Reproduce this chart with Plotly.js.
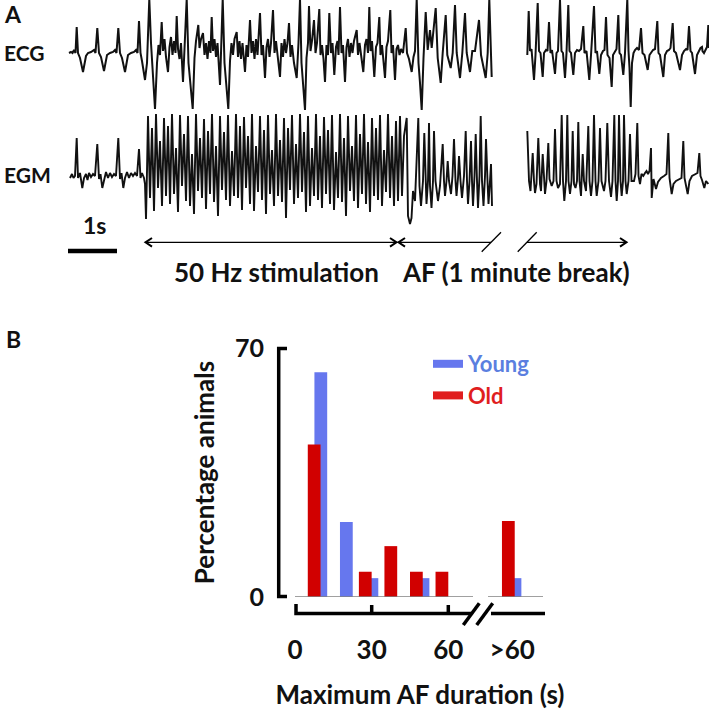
<!DOCTYPE html>
<html><head><meta charset="utf-8">
<script src="https://cdn.plot.ly/plotly-3.0.1.min.js"></script>
<style>html,body{margin:0;padding:0;background:#fff}#chart{width:709px;height:710px}</style>
</head><body><div id="chart"></div>
<script>
// ================= Panel B data =================
const durationBins = ['0-10', '10-20', '20-30', '30-40', '40-50', '50-60', '>60'];
const youngPct = [63.2, 21.1, 5.3, 0, 5.3, 0, 5.3];
const oldPct   = [42.9, 0, 7.1, 14.3, 7.1, 7.1, 21.4];
const xTickLabels = ['0', '30', '60', '>60'];
const yTickLabels = ['0', '70'];
const seriesNames = ['Young', 'Old'];

// ================= Panel A data (time in arbitrary units, amplitude in arbitrary units) =================
const ecgSeg1 = [[69,0],[71,1],[72.5,0],[74,3],[75.5,0],[76.7,26],[78,0],[80,-5],[83,-19],[86,-3],[88,0],[91,1],[94,3],[95.5,0],[97.3,25],[99,0],[101,-4],[104,-18],[107,-2],[110,0],[113,1],[115,3],[116.5,0],[118.3,25],[120,0],[122,-5],[125,-19],[128,-2],[131,0],[134,1],[136,3],[137.5,0],[139,32],[140.5,0],[142,-8],[145,-27],[147,-10],[149.3,54],[151,10],[153,-20],[155,-56],[157,-10],[158.5,8],[160,-2],[161.7,31],[163,2],[164.5,14],[166,-4],[168,-19],[169.5,6],[171,16],[172.5,-2],[174,12],[175.5,0],[176.7,37],[178,4],[179.5,-6],[181,10],[183,-29],[184.5,4],[186.7,54],[188.5,-10],[190.5,-30],[192.7,-56],[194.5,-5],[196,12],[198.3,28],[199.5,5],[201,14],[203,20],[204.5,-2],[206,10],[207.5,-6],[209,12],[210.5,0],[211.7,36],[213,2],[214.5,14],[216,-4],[217.5,10],[220,-32],[221.5,10],[222.7,54],[224.5,-10],[226.5,-35],[228.3,-56],[230,-8],[231.5,10],[233,-2],[234.5,14],[236.7,21],[238,-4],[239.5,12],[241,-6],[242.5,10],[245,-19],[246.5,8],[248,-4],[250,33],[251.5,0],[253,12],[254.5,-6],[256,14],[257.5,-2],[260,40],[261.5,-2],[263,8],[265,-25],[266.5,6],[268,14],[269.5,-4],[271,10],[273,43],[274.5,0],[276,12],[278,-6],[280,-24],[281.5,10],[283,-4],[284.5,14],[286,0],[287.5,10],[289,30],[290.5,-4],[292,8],[294,-10],[296.7,-25],[298.5,10],[300,54],[301.5,-10],[303,-30],[305,-57],[306.5,-5],[308,10],[309,47],[310.5,2],[312,12],[314,33],[315.5,0],[317,10],[319.3,44],[320.5,-2],[322,8],[323.5,-6],[325,-29],[326.5,8],[328,-2],[329.3,40],[331,0],[332.5,10],[334.3,-22],[336,6],[337.5,12],[338.5,-2],[340,46],[341.5,0],[343,8],[345,-29],[346.5,6],[348,14],[349.5,-4],[351,10],[352.5,0],[354,12],[356.7,23],[358,-2],[359.5,10],[361,-4],[363.3,-19],[365,8],[366.5,14],[368,0],[369.3,46],[370.5,2],[372,12],[374.3,-24],[376,6],[377.5,10],[379.3,36],[380.5,-2],[382,8],[385,-25],[386.5,6],[388,12],[390.3,43],[391.5,0],[393,8],[395,-27],[396.5,4],[398,8],[399.5,-2],[401,4],[403,0],[405.7,25],[407,0],[409,-6],[411.7,-19],[413.5,-4],[415,2],[416.7,54],[418.5,-10],[420,-30],[421.7,-57],[423.5,-5],[425.7,41],[427.7,3],[430,23],[431.7,5],[435.7,45],[437.7,-5],[440.7,-30],[442.7,0],[445.7,38],[447.3,-2],[450.7,-15],[452.7,0],[455,48],[456.7,0],[460,-25],[462.3,0],[465,40],[466.7,0],[470,-19],[472.3,2],[475,2],[479,33],[481,-2],[485.7,-25],[487.7,0],[489.3,54],[491.7,-24]];
const ecgSeg2 = [[527.3,-2],[528.7,42],[530,2],[531.5,4],[534,-27],[535.5,-2],[537.7,50],[539,2],[540.5,0],[542.7,-24],[544,0],[546,3],[547.5,2],[549,31],[550.5,0],[552,3],[555,-21],[556.5,0],[558,2],[560,53],[561.5,2],[563,0],[565,-25],[566.5,0],[568.3,48],[569.5,2],[571,0],[573.3,-22],[575,0],[577,3],[579,2],[581,4],[583.3,27],[584.5,0],[586.5,2],[589.3,-27],[591,-2],[594,47],[595.5,0],[597,2],[599.3,-21],[601,-2],[603,2],[604.5,3],[606,36],[607.5,-2],[609.5,-5],[611.7,-34],[613,-2],[615,2],[616.5,4],[618.3,38],[619.5,0],[621,-2],[623.3,-22],[625,0],[627.3,54],[628.5,2],[629.5,-15],[630.7,-54],[632,-10],[633.5,0],[635,3],[637,5],[639,3],[641,25],[642.5,0],[644.5,-2],[647.7,-17],[649.5,-2],[651,0],[653,3],[655,4],[657.3,32],[658.5,0],[660,-2],[663.3,-24],[665,-2],[667,2],[669,3],[670.5,5],[672.7,30],[674,2],[676,0],[680,-17],[682,-2],[684,2],[686,4],[687.5,3],[689,27],[690.5,2],[692,0],[695,-21],[697,-2],[699,2],[700.5,5],[702,6],[702.5,2],[704,0],[706,4],[707,6],[708.3,28],[709,5]];

const egmPre = [[70,-2],[72,2],[73.5,-2],[75,0],[76.7,38],[78,-2],[80,3],[82.3,-12],[84,-2],[86,2],[87.5,-4],[89,3],[91,-1],[93,2],[95,0],[97.3,32],[99,-3],[100.5,2],[102.3,-12],[104,-3],[106,4],[108,-2],[110,3],[112,-1],[114,2],[116,0],[118.3,38],[120,-3],[121.5,3],[123.3,-12],[125,-2],[127,4],[129,-2],[131,3],[133,0],[135,3],[137,0],[139,27],[140.5,-2],[142,3],[144,-2],[145,-8],[146,-43],[147,5]];
// 50 Hz stimulation: sampled every 2 time units from t = 148
const egmStimStart = 148, egmStimStep = 2;
const egmStim = [60,-22,48,-35,62,-12,35,-30, 58,-20,50,-28,62,-18,28,-36, 61,-10,42,-25,60,-30,22,-38, 62,-15,38,-22,57,-33,45,-18, 62,-26,30,-40,60,-14,44,-24, 61,-30,25,-20,62,-22,50,-34, 59,-12,40,-28,62,-35,30,-16, 60,-24,46,-38,61,-18,26,-30, 62,-20,36,-26,58,-42,48,-14, 61,-28,32,-22,62,-16,44,-36, 60,-30,28,-20,62,-24,40,-32, 59,-18,46,-28,61,-34,24,-22, 62,-26,38,-40,60,-15,30,-25, 61,-32,42,-18,62,-28,34,-36, 58,-20,48,-24,61,-30,26,-16, 62,-22,40];
const egmAF1 = [[394,-30],[396,55],[398,-25],[400,60],[402,-20],[404,40],[406.7,58],[408,-40],[410,-48],[411.5,-42],[413,-15],[415,-25],[418.3,58],[419.5,-10],[421,-30],[423,-5],[424.3,43],[425.5,-10],[426.5,-28],[428,-5],[429,53],[430,-10],[431.5,-32],[433,-5],[434,45],[435.5,-5],[438,-25],[440,-10],[442.7,32],[444,-5],[445,-20],[446.5,-5],[447.7,15],[449,-5],[451,-18],[452.5,0],[454,37],[455.5,-5],[456.5,-20],[458,-2],[459,20],[460.5,-5],[462,-22],[464,0],[465.7,45],[467,-5],[468,-28],[469.5,-5],[471,35],[472,-5],[473,-30],[474.5,0],[475.7,42],[477,-5],[478,-32],[479.5,0],[480.7,60],[482,-5],[483.5,-30],[485,0],[486,37],[487.5,-5],[488.5,-28],[490,-5],[491,12],[492,-30]];
const egmAF2 = [[527.3,45],[529,-5],[530.5,-15],[532.7,23],[534,-5],[535,-17],[536.5,-8],[538.3,38],[540,-8],[541,-15],[542.7,22],[544,-5],[545,-18],[546.5,-5],[548.3,33],[549.5,-3],[551.7,-10],[553.5,-5],[555,47],[556.5,-5],[558,-12],[560,-8],[561.7,61],[563,-5],[564.3,-25],[566,-5],[567.3,61],[568.5,-5],[570,-18],[571.5,-5],[572.7,45],[574,-8],[575.5,-12],[577,-5],[578.3,54],[579.5,-5],[581,-20],[582.7,22],[584,-5],[586,-15],[588.3,50],[589.5,-5],[591,-20],[592.5,-5],[594,61],[595.5,-5],[596.7,-20],[598.5,-5],[600,48],[601.5,-5],[604,-15],[605.5,-5],[607.3,53],[609,-5],[611,-21],[612.5,-5],[614.3,61],[615.5,-5],[616.7,-25],[618,-5],[619,61],[620.5,-5],[621.7,-20],[623,-5],[624,61],[625.5,-5],[626.7,-18],[628.5,-5],[630,42],[631.5,-5],[634,-5],[635.5,2],[637.3,53],[638.5,0],[640,-8],[641.5,2],[643.3,0],[645,3],[646.5,5],[648,2],[649.5,5],[651,28],[651.7,-22],[653.5,-3],[656,-13],[658,-6],[661,-2],[664,0],[666.5,2],[668.3,43],[669.5,-2],[671.7,-18],[673.5,-8],[676,-5],[679,-3],[681.5,-2],[683.3,35],[684.5,-2],[687.7,-18],[689.5,-5],[692,0],[695,2],[697.5,3],[699.3,23],[700.5,0],[702,-4],[704.3,-12],[706,-5],[708.3,-8]];

// ================= helpers =================
const W = 709, H = 710;
const px = x => x / W;
const py = y => 1 - y / H;
function joinSegments(segs) {
  const x = [], y = [];
  segs.forEach((s, i) => {
    if (i > 0) { x.push(null); y.push(null); }
    s.forEach(p => { x.push(p[0]); y.push(p[1]); });
  });
  return {x, y};
}
const stimPairs = egmStim.map((v, i) => [egmStimStart + i * egmStimStep, v]);
const ecg = joinSegments([ecgSeg1, ecgSeg2]);
const egm = joinSegments([egmPre.concat(stimPairs, egmAF1), egmAF2]);

const FONT = 'Lato, "Open Sans", sans-serif';
const BLUE = '#6677ee', RED = '#d10000';
const BLUE_TXT = '#5b7fe0', RED_TXT = '#e01e1e';

// bar positions along the broken axis (style, not data)
const barPos = durationBins.map((b, i) => i < 6 ? 5 + 10 * i : 81);

const traces = [
  {type: 'scatter', mode: 'lines', x: ecg.x, y: ecg.y, xaxis: 'x', yaxis: 'y',
   line: {color: '#111', width: 2}, showlegend: false, hoverinfo: 'skip', connectgaps: false},
  {type: 'scatter', mode: 'lines', x: egm.x, y: egm.y, xaxis: 'x', yaxis: 'y2',
   line: {color: '#111', width: 1.9}, showlegend: false, hoverinfo: 'skip', connectgaps: false},
  {type: 'bar', name: seriesNames[0], x: barPos, y: youngPct, xaxis: 'x2', yaxis: 'y3',
   offset: 2.6, width: 5, marker: {color: BLUE}, showlegend: false},
  {type: 'bar', name: seriesNames[1], x: barPos, y: oldPct, xaxis: 'x2', yaxis: 'y3',
   offset: 0, width: 5, marker: {color: RED}, showlegend: false},
  // legend entries
  {type: 'scatter', mode: 'lines', x: [null], y: [null], xaxis: 'x2', yaxis: 'y3',
   name: '<span style="color:' + BLUE_TXT + '">' + seriesNames[0] + '</span>', line: {color: BLUE, width: 8}},
  {type: 'scatter', mode: 'lines', x: [null], y: [null], xaxis: 'x2', yaxis: 'y3',
   name: '<span style="color:' + RED_TXT + '">' + seriesNames[1] + '</span>', line: {color: '#e01e1e', width: 8}}
];

const hidden = {visible: false, fixedrange: true, showgrid: false, zeroline: false};
const unitPx = (448.3 - 295) / 60;

const shapes = [];
function seg(x0, y0, x1, y1, w, color) {
  shapes.push({type: 'line', xref: 'paper', yref: 'paper', x0: px(x0), y0: py(y0), x1: px(x1), y1: py(y1),
    line: {color: color || '#000', width: w}});
}
function path(pts, w) {
  const d = pts.map((p, i) => (i ? 'L' : 'M') + px(p[0]) + ',' + py(p[1])).join(' ');
  shapes.push({type: 'path', xref: 'paper', yref: 'paper', path: d, line: {color: '#000', width: w}});
}
// scale bar
seg(68, 251, 117, 251, 4.5);
// arrows
const ay = 242.3;
seg(146, ay, 396, ay, 1.3);
path([[152, ay - 4.3], [145.5, ay], [152, ay + 4.3]], 2);
path([[390, ay - 4.3], [396.5, ay], [390, ay + 4.3]], 2);
seg(399, ay, 491, ay, 1.3);
path([[405, ay - 4.3], [398.5, ay], [405, ay + 4.3]], 2);
seg(481.7, 251.7, 501, 232.3, 1.3);
seg(517.7, 251.7, 536.7, 232.3, 1.3);
seg(527, ay, 626, ay, 1.3);
path([[620, ay - 4.3], [626.5, ay], [620, ay + 4.3]], 2);
// panel B brackets
path([[287, 348.5], [278.7, 348.5], [278.7, 596.5], [287, 596.5]], 3.5);
path([[296, 604], [296, 613.5], [471, 613.5]], 3.5);
path([[491, 613.5], [545, 613.5]], 3.5);
path([[371.7, 605], [371.7, 613.5]], 3.5);
path([[448.3, 605], [448.3, 613.5]], 3.5);
seg(463.3, 625, 479.3, 603.3, 3.5);
seg(476.7, 625, 492.7, 603.3, 3.5);
// grey zero line (broken)
shapes.push({type: 'line', xref: 'x2', yref: 'y3', x0: 0, x1: (473 - 295) / unitPx, y0: 0, y1: 0, line: {color: '#808080', width: 1.5}});
shapes.push({type: 'line', xref: 'x2', yref: 'y3', x0: (488 - 295) / unitPx, x1: (543 - 295) / unitPx, y0: 0, y1: 0, line: {color: '#808080', width: 1.5}});

function ann(text, x, y, size, extra) {
  return Object.assign({text: text, xref: 'paper', yref: 'paper', x: px(x), y: py(y), xanchor: 'center', yanchor: 'middle',
    showarrow: false, font: {family: FONT, size: size, color: '#111', weight: 'bold'}}, extra || {});
}
const annotations = [
  ann('A', 13, 14, 23),
  ann('ECG', 2, 52, 21, {xanchor: 'left'}),
  ann('EGM', 2, 174, 21, {xanchor: 'left'}),
  ann('1s', 94.5, 225, 23),
  ann('50 Hz stimulation', 276.5, 272, 26),
  ann('AF (1 minute break)', 516, 272, 26),
  ann('B', 13, 339, 23)
];

const layout = {
  width: W, height: H, margin: {l: 0, r: 0, t: 0, b: 0},
  paper_bgcolor: '#fff', plot_bgcolor: 'rgba(0,0,0,0)',
  font: {family: FONT, size: 22, color: '#111', weight: 'bold'},
  barmode: 'overlay',
  xaxis: Object.assign({}, hidden, {domain: [0, 1], range: [0, W], anchor: 'y'}),
  yaxis: Object.assign({}, hidden, {domain: [py(115), py(0)], range: [-62, 53], anchor: 'x'}),
  yaxis2: Object.assign({}, hidden, {domain: [py(230), py(110)], range: [176 - 230, 176 - 110], anchor: 'x'}),
  xaxis2: {domain: [px(295), px(545)], range: [0, 250 / unitPx], anchor: 'y3', fixedrange: true,
    showgrid: false, zeroline: false, showline: false, ticks: '',
    tickvals: [0, 30, 60, 85], ticktext: xTickLabels, ticklabelstandoff: 35,
    tickfont: {family: FONT, size: 26, color: '#111', weight: 'bold'},
    title: {text: 'Maximum AF duration (s)', standoff: 33, font: {family: FONT, size: 26, color: '#111', weight: 'bold'}}},
  yaxis3: {domain: [py(597), py(348)], range: [0, 70], anchor: 'x2', fixedrange: true,
    showgrid: false, zeroline: false, showline: false, ticks: '',
    tickvals: [0, 70], ticktext: yTickLabels, ticklabelstandoff: 30,
    tickfont: {family: FONT, size: 25, color: '#111', weight: 'bold'},
    title: {text: 'Percentage animals', standoff: 12, font: {family: FONT, size: 26, color: '#111', weight: 'bold'}}},
  showlegend: true,
  legend: {x: px(428), y: py(343), xanchor: 'left', yanchor: 'top', bgcolor: 'rgba(0,0,0,0)',
    font: {family: FONT, size: 22, weight: 'bold'}, traceorder: 'normal', itemclick: false},
  shapes: shapes,
  annotations: annotations
};

Plotly.newPlot('chart', traces, layout, {displayModeBar: false, staticPlot: true});
</script>
</body></html>
